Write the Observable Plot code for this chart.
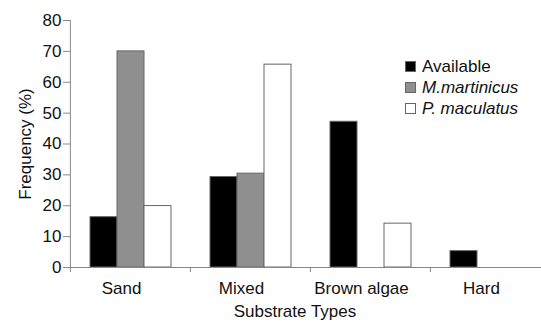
<!DOCTYPE html>
<html>
<head>
<meta charset="utf-8">
<script src="https://cdn.jsdelivr.net/npm/d3@7"></script>
<script src="https://cdn.jsdelivr.net/npm/@observablehq/plot@0.6"></script>
<style>
  html, body { margin: 0; padding: 0; background: #fff; overflow: hidden; }
  #wrap { position: relative; width: 541px; height: 323px; font-family: "Liberation Sans", Arial, sans-serif; color: #111; }
  #legend { position: absolute; left: 405px; top: 56px; font-size: 17px; line-height: 21px; }
  #legend .row { display: flex; align-items: center; white-space: nowrap; }
  #legend .sw { width: 9px; height: 9px; border: 1px solid #666; margin-right: 6px; box-sizing: content-box; }
  #xlabel { position: absolute; left: 0; width: 590px; top: 302px; text-align: center; font-size: 17px; }
</style>
</head>
<body>
<div id="wrap">
  <div id="chart"></div>
  <div id="legend"></div>
  <div id="xlabel">Substrate Types</div>
</div>
<script>
const categories = ["Sand", "Mixed", "Brown algae", "Hard"];
const series = ["Available", "M.martinicus", "P. maculatus"];
const available = [16.3, 29.3, 47.2, 5.3];
const mMartinicus = [70, 30.4, 0, 0];
const pMaculatus = [19.9, 65.7, 14.2, 0];
const yTicks = [0, 10, 20, 30, 40, 50, 60, 70, 80];
const colors = ["#000000", "#8f8f8f", "#ffffff"];
const italic = [false, true, true];

const values = [available, mMartinicus, pMaculatus];
const rows = [];
categories.forEach((c, i) => series.forEach((s, j) => rows.push({category: c, series: s, value: values[j][i]})));

const W = 541, H = 323, mL = 69, mR = -9, mT = 20, mB = 56;
const facetW = (W - mL - mR) / categories.length;

const chart = Plot.plot({
  width: W, height: H,
  marginLeft: mL, marginRight: mR, marginTop: mT, marginBottom: mB,
  style: {fontFamily: "Liberation Sans, Arial, sans-serif", fontSize: "17px", background: "white"},
  fx: {domain: categories, padding: 0, axis: null},
  x: {domain: series, paddingInner: 0, paddingOuter: 0.72, axis: null},
  y: {domain: [0, 80], axis: null},
  color: {domain: series, range: colors},
  marks: [
    Plot.barY(rows.filter(d => d.value > 0), {fx: "category", x: "series", y: "value", fill: "series", stroke: "#666", strokeWidth: 1}),
    Plot.ruleY([0], {stroke: "#888"}),
    Plot.ruleX(categories, {fx: d => d, x: null, y1: d => d === categories[0] ? 80 : 0, y2: 0, insetBottom: -5, dx: -facetW / 2, stroke: "#888"}),
    Plot.axisY({ticks: yTicks, tickSize: 7, tickPadding: 2, stroke: "#888", fill: "#111", fontSize: 17,
      label: "Frequency (%)", labelAnchor: "center", labelOffset: 52, labelArrow: false}),
    Plot.axisFx({anchor: "bottom", tickSize: 0, tickPadding: 14, dx: -9, label: null, fill: "#111", fontSize: 17})
  ]
});
document.getElementById("chart").appendChild(chart);

const legend = document.getElementById("legend");
series.forEach((s, j) => {
  const row = document.createElement("div");
  row.className = "row";
  const sw = document.createElement("div");
  sw.className = "sw";
  sw.style.background = colors[j];
  const t = document.createElement("span");
  t.textContent = s;
  if (italic[j]) t.style.fontStyle = "italic";
  row.appendChild(sw); row.appendChild(t);
  legend.appendChild(row);
});
</script>
</body>
</html>
